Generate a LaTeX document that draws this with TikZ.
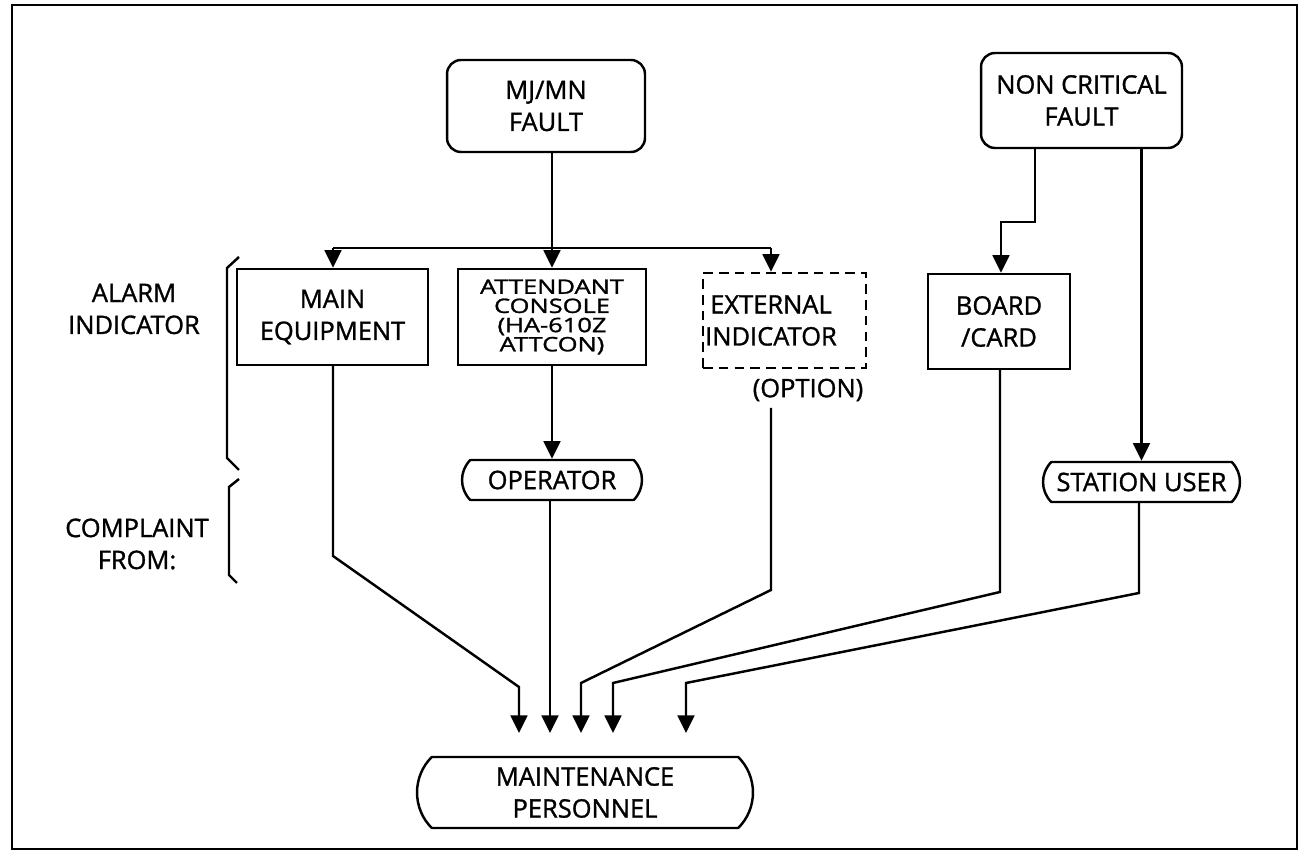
\documentclass[tikz,border=0pt]{standalone}
\usepackage{fontspec}
\setmainfont{Open Sans}[FakeBold=1.2]
\usepackage{graphicx}
\usetikzlibrary{arrows.meta,shapes.misc}
\begin{document}
\begin{tikzpicture}[x=0.02cm,y=-0.02cm,
  every node/.style={font=\fontsize{14.5}{18.2}\selectfont, inner sep=0pt, align=center},
  ln/.style={line width=1.4pt},
  arr/.style={ln,-{Triangle[length=10pt,width=9.5pt]}},
  rbox/.style={draw,ln,rounded corners=0.28cm},
  sbox/.style={draw,ln},
  dbox/.style={draw,ln,dash pattern=on 5.5pt off 3.5pt},
  pill/.style={draw,ln,rounded rectangle,rounded rectangle arc length=90},
  lbl/.style={draw=none},
]
\useasboundingbox (0,0) rectangle (1306,857);
\draw[ln] (12,5) rectangle (1297,849);

% top boxes
\node[rbox,minimum width=3.96cm,minimum height=1.84cm] (mj) at (546,106) {MJ/MN\\FAULT};
\node[rbox,minimum width=4.02cm,minimum height=1.9cm] (nc) at (1081.5,100.5) {NON CRITICAL\\FAULT};

% alarm indicators
\node[sbox,minimum width=3.82cm,minimum height=1.92cm] (me) at (332.5,317) {MAIN\\EQUIPMENT};
\node[sbox,minimum width=3.76cm,minimum height=1.92cm] (ac) at (552,317)
  {\scalebox{1}[0.78]{\parbox{3.6cm}{\centering\fontsize{14.5}{14}\selectfont\lineskiplimit=-100pt ATTENDANT\\CONSOLE\\(HA-610Z\\ATTCON)}}};
\node[dbox,minimum width=3.26cm,minimum height=1.9cm] (eib) at (784.5,320.5) {};
\node[lbl] (eit) at (771,320.5) {EXTERNAL\\INDICATOR};
\node[lbl] (opt) at (808,390) {(OPTION)};
\node[sbox,minimum width=2.84cm,minimum height=1.9cm] (bc) at (999,321.5) {BOARD\\/CARD};

% complaint sources
\node[pill,minimum width=3.6cm,minimum height=0.8cm] (op) at (552,480) {OPERATOR};
\node[pill,minimum width=3.94cm,minimum height=0.8cm] (su) at (1141.5,482) {STATION USER};

% maintenance
\node[pill,minimum width=6.72cm,minimum height=1.42cm] (mp) at (585,792.5) {MAINTENANCE\\PERSONNEL};

% side labels
\node[lbl] (al) at (134,309) {ALARM\\INDICATOR};
\node[lbl] (cf) at (137,544) {COMPLAINT\\FROM:};
\draw[ln] (239,257) -- (227,268) -- (227,458) -- (239,470);
\draw[ln] (239,479) -- (229,487) -- (229,575) -- (237,583);

% split from MJ/MN
\coordinate (sL) at (333,248);
\coordinate (sR) at (771,248);
\draw[arr] (mj.south -| ac.north) -- (ac.north);
\draw[ln] (sL) -- (sR);
\draw[arr] (sL) -- (sL |- me.north);
\draw[arr] (sR) -- (sR |- eib.north);

% non critical branches
\coordinate (nb1) at (1035,222);
\coordinate (nb2) at (1001,222);
\draw[arr] (nc.south -| nb1) -- (nb1) -- (nb2) -- (nb2 |- bc.north);
\draw[arr] (nc.south -| su.north) -- (su.north);

% attendant to operator
\draw[arr] (ac.south) -- (op.north);

% to maintenance
\coordinate (t1) at (519,733);
\coordinate (t2) at (550,733);
\coordinate (t3) at (581,733);
\coordinate (t4) at (613,733);
\coordinate (t5) at (686,733);
\coordinate (e0) at (771,408);
\draw[arr] (me.south -| sL) -- (333,556) -- (519,687) -- (t1);
\draw[arr] (op.south -| t2) -- (t2);
\draw[arr] (e0) -- (771,590) -- (581,683) -- (t3);
\draw[arr] (bc.south -| 1000,0) -- (1000,592) -- (613,683) -- (t4);
\draw[arr] (su.south -| 1139,0) -- (1139,593) -- (686,683) -- (t5);
\end{tikzpicture}
\end{document}
